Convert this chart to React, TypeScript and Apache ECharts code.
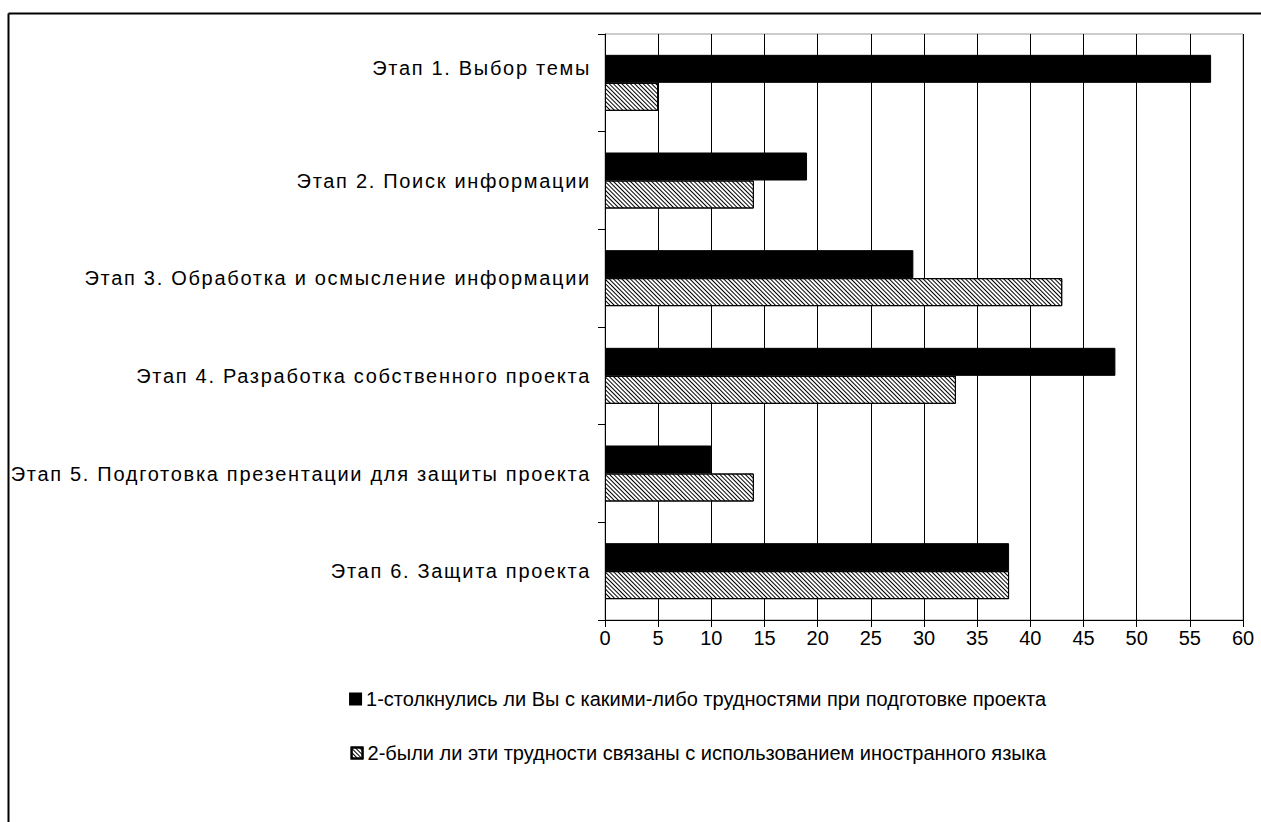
import React, { useEffect, useRef } from "react";
import * as echarts from "echarts";

const categories = [
  "Этап 1. Выбор темы",
  "Этап 2. Поиск информации",
  "Этап 3. Обработка и осмысление информации",
  "Этап 4. Разработка собственного проекта",
  "Этап 5. Подготовка презентации для защиты проекта",
  "Этап 6. Защита проекта",
];
const series1Name = "1-столкнулись ли Вы с какими-либо трудностями при подготовке проекта";
const series2Name = "2-были ли эти трудности связаны с использованием иностранного языка";
const series1Values = [57, 19, 29, 48, 10, 38];
const series2Values = [5, 14, 43, 33, 14, 38];

const FONT = "'Liberation Sans', Arial, sans-serif";

export default function App() {
  const ref = useRef<HTMLDivElement>(null);
  useEffect(() => {
    document.body.style.margin = "0";
    const styleEl = document.createElement("style");
    styleEl.textContent = '#chartbox svg text[text-anchor="end"] { letter-spacing: 1.7px; }';
    document.head.appendChild(styleEl);
    const chart = echarts.init(ref.current!, null, { renderer: "svg" });
    const hatch = {
      symbol: "rect",
      symbolSize: 1,
      color: "#000",
      backgroundColor: "#fff",
      dashArrayX: [1, 0],
      dashArrayY: [1, 2],
      rotation: Math.PI / 4,
    };
    const legendText = { fontFamily: FONT, fontSize: 20, color: "#000" };
    const yData = categories.map((c, i) =>
      i === 0 ? { value: c, textStyle: { verticalAlign: "bottom", lineHeight: 30 } } : c
    );
    chart.setOption({
      animation: false,
      backgroundColor: "#fff",
      textStyle: { fontFamily: FONT, color: "#000" },
      graphic: [
        { type: "line", shape: { x1: 8.5, y1: 13.5, x2: 1261, y2: 13.5 }, style: { stroke: "#000", lineWidth: 2 } },
        { type: "line", shape: { x1: 8.5, y1: 13.5, x2: 8.5, y2: 822 }, style: { stroke: "#000", lineWidth: 2 } },
      ],
      grid: {
        left: 605,
        top: 34,
        right: 18,
        bottom: 202,
        show: true,
        borderColor: "#999",
        borderWidth: 1,
      },
      legend: [
        {
          right: 210,
          top: 684,
          itemWidth: 11,
          itemHeight: 11,
          itemGap: 8,
          icon: "rect",
          textStyle: legendText,
          data: [series1Name],
        },
        {
          right: 210,
          top: 738,
          itemWidth: 11,
          itemHeight: 11,
          itemGap: 8,
          icon: "rect",
          textStyle: legendText,
          data: [series2Name],
        },
      ],
      xAxis: {
        type: "value",
        min: 0,
        max: 60,
        interval: 5,
        axisLine: { show: true, lineStyle: { color: "#000", width: 1 } },
        axisTick: { show: true, length: 7, lineStyle: { color: "#000" } },
        axisLabel: { color: "#000", fontSize: 20, fontFamily: FONT, margin: 8 },
        splitLine: { show: true, lineStyle: { color: "#000", width: 1 } },
      },
      yAxis: {
        type: "category",
        inverse: true,
        data: yData,
        axisLine: { show: true, lineStyle: { color: "#000", width: 1 } },
        axisTick: { show: true, length: 7, lineStyle: { color: "#000" } },
        axisLabel: { color: "#000", fontSize: 20, fontFamily: FONT, margin: 14 },
        splitLine: { show: false },
      },
      series: [
        {
          name: series1Name,
          type: "bar",
          data: series1Values,
          barWidth: 28,
          barGap: "0%",
          itemStyle: { color: "#000", borderColor: "#000", borderWidth: 1 },
        },
        {
          name: series2Name,
          type: "bar",
          data: series2Values,
          barWidth: 28,
          barGap: "0%",
          itemStyle: { color: "#fff", borderColor: "#000", borderWidth: 1, decal: hatch },
        },
      ],
    });
    return () => {
      chart.dispose();
      styleEl.remove();
    };
  }, []);
  return (
    <div
      id="chartbox"
      ref={ref}
      style={{ position: "absolute", left: 0, top: 0, width: 1261, height: 822 }}
    />
  );
}
